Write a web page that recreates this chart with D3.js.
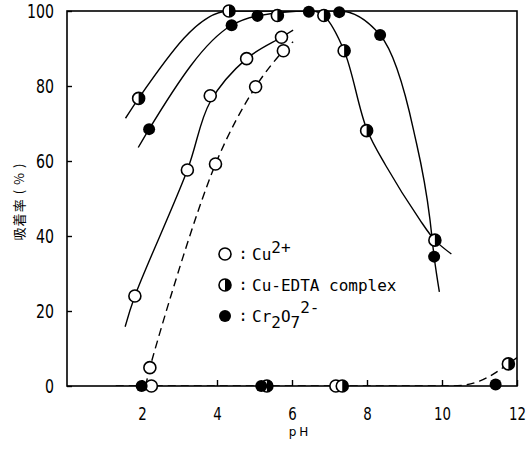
<!DOCTYPE html>
<html>
<head>
<meta charset="utf-8">
<script src="https://cdn.jsdelivr.net/npm/d3@7"></script>
<style>
  body { margin: 0; background: #fff; }
  svg { display: block; }
</style>
</head>
<body>
<svg width="532" height="452"></svg>
<script>
// measured points [pH, adsorption %]
const cuPoints = [[1.81, 24], [3.21, 57.6], [3.82, 77.4], [4.79, 87.3], [5.72, 93.0],
                  [2.21, 4.9], [3.96, 59.2], [5.03, 79.8], [5.77, 89.4], [2.25, 0], [7.17, 0]];
const edtaPoints = [[1.91, 76.7], [4.32, 100], [5.61, 98.8], [6.85, 98.8], [7.39, 89.4],
                    [7.99, 68.1], [9.81, 38.9], [11.77, 5.9], [5.33, 0], [7.34, 0]];
const crPoints = [[2.19, 68.5], [4.39, 96.2], [5.08, 98.7], [6.45, 99.8], [7.26, 99.7],
                  [8.35, 93.6], [9.79, 34.5], [11.43, 0.4], [1.99, 0], [5.18, 0]];

// fitted curves
const cuFit = [[1.55, 15.8], [1.81, 24], [3.21, 57.6], [3.82, 75.8], [4.79, 87.3], [5.72, 93.0], [6.03, 94.9]];
const cuFitDashed = [[2.1, 0], [2.21, 4.9], [3.96, 59.2], [5.03, 79.8], [5.77, 89.4], [6.03, 91.8]];
const baseFitDashed = [[1.3, 0], [10.3, 0], [11.0, 1.3], [11.77, 5.9], [12, 7.6]];
const edtaRiseFit = [[1.56, 71.4], [1.91, 76.7], [4.32, 100], [6.6, 100]];
const edtaFallFit = [[6.6, 100], [6.85, 98.8], [7.39, 89.4], [7.99, 68.6], [8.5, 58.8],
                     [9.41, 44.3], [9.81, 38.9], [10.25, 35.2]];
const crFit = [[1.9, 63.6], [2.19, 68.5], [4.39, 96.2], [5.08, 98.7], [6.45, 100], [7.26, 100],
               [8.35, 93.6], [9.24, 68.3], [9.68, 44.3], [9.79, 34.5], [9.93, 25.1]];

const xTicks = [2, 4, 6, 8, 10, 12];
const yTicks = [0, 20, 40, 60, 80, 100];

const svg = d3.select('svg');
const x = d3.scaleLinear().domain([0, 12]).range([67, 517]);
const y = d3.scaleLinear().domain([0, 100]).range([386, 11]);

svg.append('clipPath').attr('id', 'plot')
    .append('rect')
    .attr('x', x(0)).attr('y', y(100))
    .attr('width', x(12) - x(0)).attr('height', y(0) - y(100));

// frame
svg.append('rect')
    .attr('x', x(0)).attr('y', y(100))
    .attr('width', x(12) - x(0)).attr('height', y(0) - y(100))
    .attr('fill', 'none').attr('stroke', '#000').attr('stroke-width', 1.6);

// axes (ticks point inward)
const xAxis = svg.append('g')
    .attr('transform', `translate(0,${y(0)})`)
    .call(d3.axisBottom(x).tickValues(xTicks).tickSize(-6).tickPadding(21).tickFormat(d3.format('d')));
const yAxis = svg.append('g')
    .attr('transform', `translate(${x(0)},0)`)
    .call(d3.axisLeft(y).tickValues(yTicks).tickSize(-5).tickPadding(13).tickFormat(d3.format('d')));

[xAxis, yAxis].forEach(g => {
    g.select('.domain').remove();
    g.selectAll('line').attr('stroke', '#000').attr('stroke-width', 1.4);
});
xAxis.selectAll('text')
    .attr('font-family', 'DejaVu Sans, sans-serif').attr('font-size', 18).attr('fill', '#000')
    .attr('textLength', d => String(d).length * 8.5).attr('lengthAdjust', 'spacingAndGlyphs');
yAxis.selectAll('text')
    .attr('font-family', 'DejaVu Sans, sans-serif').attr('font-size', 19).attr('fill', '#000')
    .attr('textLength', d => String(d).length * 9).attr('lengthAdjust', 'spacingAndGlyphs');

// axis titles
svg.append('text')
    .attr('x', 300).attr('y', 436)
    .attr('text-anchor', 'middle')
    .attr('font-family', 'DejaVu Sans, sans-serif').attr('font-size', 12)
    .attr('letter-spacing', 3)
    .text('pH');
svg.append('text')
    .attr('transform', 'translate(24,202) rotate(-90)')
    .attr('text-anchor', 'middle')
    .attr('font-family', 'Noto Sans CJK JP, sans-serif').attr('font-size', 13)
    .attr('textLength', 77).attr('lengthAdjust', 'spacing')
    .text('吸着率 ( % )');

// curves
const monotone = d3.curveMonotoneX;
const smooth = d3.curveCatmullRom.alpha(0.5);
const curves = [
    { data: cuFit, dash: null, curve: smooth },
    { data: cuFitDashed, dash: '8,5', curve: smooth },
    { data: baseFitDashed, dash: '8,5', curve: monotone },
    { data: edtaRiseFit, dash: null, curve: monotone },
    { data: edtaFallFit, dash: null, curve: smooth },
    { data: crFit, dash: null, curve: monotone },
];
const curveLayer = svg.append('g').attr('clip-path', 'url(#plot)');
curves.forEach(c => {
    let line = d3.line().x(d => x(d[0])).y(d => y(d[1])).curve(c.curve);
    curveLayer.append('path')
        .attr('d', line(c.data))
        .attr('fill', 'none')
        .attr('stroke', '#000')
        .attr('stroke-width', 1.4)
        .attr('stroke-dasharray', c.dash);
});

// markers
const R = 6;
const halfArc = d3.arc().innerRadius(0).outerRadius(R).startAngle(0).endAngle(Math.PI);
function marker(g, kind, cx, cy) {
    let m = g.append('g').attr('transform', `translate(${cx},${cy})`);
    if (kind === 'filled') {
        m.append('circle').attr('r', R).attr('fill', '#000');
    } else {
        m.append('circle').attr('r', R).attr('fill', '#fff').attr('stroke', '#000').attr('stroke-width', 1.6);
        if (kind === 'half') m.append('path').attr('d', halfArc()).attr('fill', '#000');
    }
}
const marks = svg.append('g');
cuPoints.forEach(d => marker(marks, 'open', x(d[0]), y(d[1])));
edtaPoints.forEach(d => marker(marks, 'half', x(d[0]), y(d[1])));
crPoints.forEach(d => marker(marks, 'filled', x(d[0]), y(d[1])));

// legend
const legendRows = [
    { kind: 'open', parts: [['Cu', 0], ['2+', -7]] },
    { kind: 'half', parts: [['Cu-EDTA complex', 0]] },
    { kind: 'filled', parts: [['Cr', 0], ['2', 6], ['O', 0], ['7', 6], ['2-', -9]] },
];
legendRows.forEach((row, i) => {
    let cy = 254 + i * 31;
    marker(svg, row.kind, 225, cy);
    svg.append('text')
        .attr('x', 243).attr('y', cy + 5)
        .attr('text-anchor', 'middle')
        .attr('font-family', 'DejaVu Sans Mono, monospace').attr('font-size', 16)
        .text(':');
    let t = svg.append('text')
        .attr('x', 252).attr('y', cy + 6)
        .attr('font-family', 'DejaVu Sans Mono, monospace').attr('font-size', 16);
    let prev = 0;
    row.parts.forEach(([s, off]) => {
        t.append('tspan').attr('dy', off - prev).text(s);
        prev = off;
    });
});
</script>
</body>
</html>
